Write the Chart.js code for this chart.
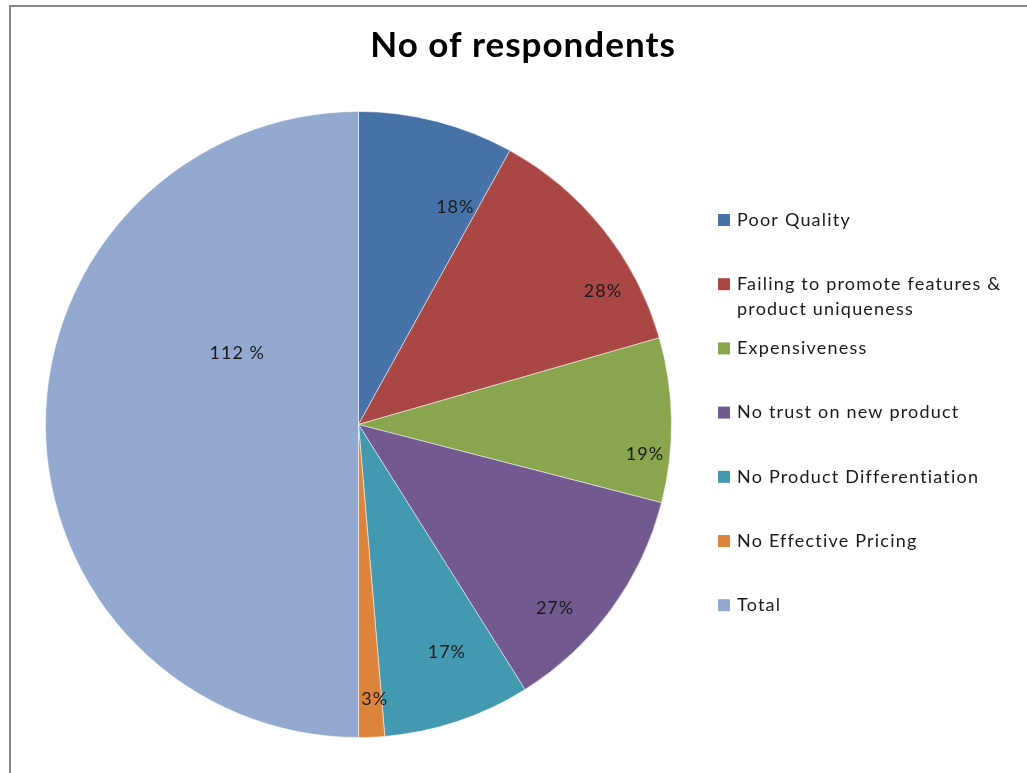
<!DOCTYPE html>
<html>
<head>
<meta charset="utf-8">
<script src="https://cdn.jsdelivr.net/npm/chart.js@4"></script>
<style>
	html, body { margin: 0; padding: 0; background: #fff; }
	#wrap { position: relative; width: 1027px; height: 773px; }
</style>
</head>
<body>
<div id="wrap"><canvas id="myChart" width="1027" height="773"></canvas></div>
<script>
(() => {
	"use strict";

	const title = "No of respondents";
	const categories = [
		"Poor Quality",
		"Failing to promote features & product uniqueness",
		"Expensiveness",
		"No trust on new product",
		"No Product Differentiation",
		"No Effective Pricing",
		"Total",
	];
	const respondents = [18, 28, 19, 27, 17, 3, 112];
	const valueLabels = ["18%", "28%", "19%", "27%", "17%", "3%", "112 %"];
	const colors = ["#4672a8", "#a94744", "#89a54e", "#725990", "#4299b0", "#dc843b", "#94a9d0"];

	// where each label sits inside its slice (fraction of angle, fraction of radius)
	const labelAngleFrac = [0.83, 0.72, 0.72, 0.66, 0.40, 0.30, 0.67];
	const labelRadiusFrac = [0.76, 0.89, 0.92, 0.86, 0.78, 0.88, 0.45];

	const FONT = "Lato, 'Open Sans', sans-serif";

	const framePlugin = {
		id: "frame",
		beforeDraw(chart) {
			const c = chart.ctx;
			c.save();
			c.fillStyle = "#fff";
			c.fillRect(0, 0, chart.width, chart.height);
			c.strokeStyle = "#868686";
			c.lineWidth = 2;
			c.beginPath();
			c.moveTo(10, chart.height);
			c.lineTo(10, 6);
			c.lineTo(chart.width, 6);
			c.stroke();
			c.restore();
		},
		afterDraw(chart) {
			const c = chart.ctx;
			c.save();
			// title
			c.fillStyle = "#000";
			c.font = "bold 35px " + FONT;
			c.letterSpacing = "1px";
			c.textAlign = "center";
			c.textBaseline = "middle";
			c.fillText(title, 523, 46);

			// legend
			c.font = "18px " + FONT;
			c.letterSpacing = "1.2px";
			c.textAlign = "left";
			const maxW = 285;
			categories.forEach((label, i) => {
				const y = 220 + i * 64.2;
				c.fillStyle = colors[i];
				c.fillRect(718, y - 6, 12, 12);
				c.fillStyle = "#1a1a1a";
				const words = label.split(" ");
				const lines = [];
				let line = "";
				words.forEach((w) => {
					const test = line ? line + " " + w : w;
					if (c.measureText(test).width > maxW && line) {
						lines.push(line);
						line = w;
					} else {
						line = test;
					}
				});
				lines.push(line);
				lines.forEach((l, k) => c.fillText(l, 737, y + k * 25));
			});
			c.restore();
		},
	};

	const sliceLabels = {
		id: "sliceLabels",
		afterDatasetsDraw(chart) {
			const c = chart.ctx;
			const meta = chart.getDatasetMeta(0);
			c.save();
			c.font = "18px " + FONT;
			c.letterSpacing = "1px";
			c.fillStyle = "#1a1a1a";
			c.textAlign = "center";
			c.textBaseline = "middle";
			meta.data.forEach((arc, i) => {
				const p = arc.getProps(["x", "y", "startAngle", "endAngle", "outerRadius"], true);
				const a = p.startAngle + labelAngleFrac[i] * (p.endAngle - p.startAngle);
				const r = p.outerRadius * labelRadiusFrac[i];
				c.fillText(valueLabels[i], p.x + Math.cos(a) * r, p.y + Math.sin(a) * r);
			});
			c.restore();
		},
	};

	const ctx = document.getElementById("myChart");
	// eslint-disable-next-line no-unused-vars
	const myChart = new Chart(ctx, {
		type: "pie",
		data: {
			labels: categories,
			datasets: [
				{
					data: respondents,
					backgroundColor: colors,
					borderColor: "rgba(255,255,255,0.5)",
					borderWidth: 1,
				},
			],
		},
		options: {
			responsive: false,
			animation: false,
			layout: {
				padding: { left: 45, right: 355, top: 111, bottom: 35 },
			},
			plugins: {
				legend: { display: false },
				title: { display: false },
				tooltip: { enabled: false },
			},
		},
		plugins: [framePlugin, sliceLabels],
	});
})();
</script>
</body>
</html>
